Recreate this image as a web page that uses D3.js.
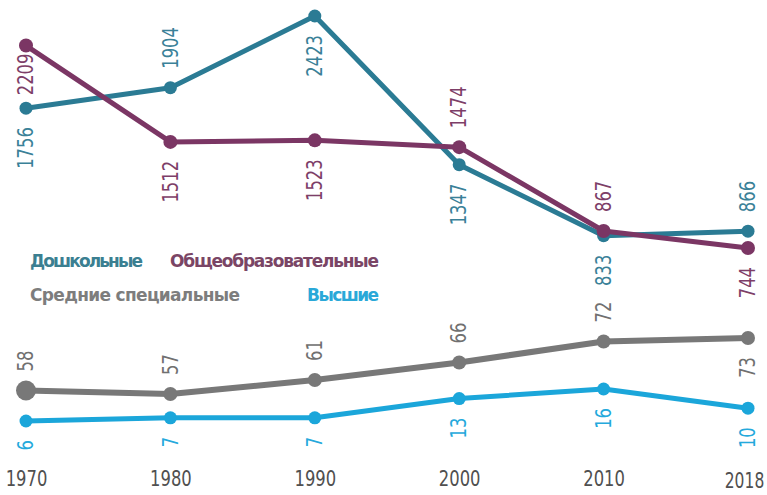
<!DOCTYPE html>
<html lang="ru">
<head>
<meta charset="utf-8">
<script src="https://cdn.jsdelivr.net/npm/d3@7"></script>
<style>
  html, body { margin: 0; padding: 0; background: #ffffff; }
  svg { display: block; }
  text { font-family: "DejaVu Sans", "Roboto", sans-serif; }
</style>
</head>
<body>
<svg id="chart" width="767" height="495"></svg>
<script>
// Число учреждений по типам, 1970–2018
const years = ["1970", "1980", "1990", "2000", "2010", "2018"];
const preschool = [1756, 1904, 2423, 1347, 833, 866];
const general = [2209, 1512, 1523, 1474, 867, 744];
const vocational = [58, 57, 61, 66, 72, 73];
const higher = [6, 7, 7, 13, 16, 10];

const seriesNames = ["Дошкольные", "Общеобразовательные", "Средние специальные", "Высшие"];

// which side of the point each value label sits on
const preschoolSide = ["below", "above", "below", "below", "below", "above"];
const generalSide = ["below", "below", "below", "above", "above", "below"];
const vocationalSide = ["above", "above", "above", "above", "above", "below"];
const higherSide = ["below", "below", "below", "below", "below", "below"];

const W = 767, H = 495;
const svg = d3.select("#chart");

const x = d3.scalePoint().domain(years).range([26, 748]);

// upper group (schools and kindergartens) share one scale
const yTop = d3.scaleLinear().domain([744, 2423]).range([248, 16]);
// lower group: colleges and universities, each on its own band
const yVoc = d3.scaleLinear().domain([57, 73]).range([394, 338]);
const yHigh = d3.scaleLinear().domain([6, 16]).range([421, 389]);

const series = [
  { values: preschool, y: yTop, color: "#2b7b94", label: "#3a8198", side: preschoolSide, lw: 5, r: 6.5 },
  { values: general, y: yTop, color: "#7b3664", label: "#7d3e68", side: generalSide, lw: 5, r: 7 },
  { values: vocational, y: yVoc, color: "#787878", label: "#707070", side: vocationalSide, lw: 6, r: 7 },
  { values: higher, y: yHigh, color: "#1ba6da", label: "#25a9dc", side: higherSide, lw: 5, r: 6.5 }
];

const line = (s) => d3.line()
  .x((d, i) => x(years[i]))
  .y(d => s.y(d));

series.forEach((s, si) => {
  const g = svg.append("g");
  g.append("path")
    .datum(s.values)
    .attr("d", line(s))
    .attr("fill", "none")
    .attr("stroke", s.color)
    .attr("stroke-width", s.lw)
    .attr("stroke-linejoin", "round")
    .attr("stroke-linecap", "round");

  g.selectAll("circle")
    .data(s.values)
    .join("circle")
    .attr("cx", (d, i) => x(years[i]))
    .attr("cy", d => s.y(d))
    .attr("r", (d, i) => (si === 2 && i === 0) ? 10 : s.r)
    .attr("fill", s.color);

  // value labels, set vertically in a narrowed face
  g.selectAll("text")
    .data(s.values)
    .join("text")
    .attr("transform", (d, i) => {
      let off = 19;
      if (si === 1 && i === 0) off = 8;
      const yy = s.y(d) + (s.side[i] === "above" ? -off : off);
      return `translate(${x(years[i])},${yy}) rotate(-90) scale(0.78,1)`;
    })
    .attr("text-anchor", (d, i) => s.side[i] === "above" ? "start" : "end")
    .attr("dominant-baseline", "central")
    .attr("font-size", 21)
    .attr("fill", s.label)
    .text(d => d);
});

// x axis labels
const xAxis = d3.axisBottom(x).tickSize(0).tickPadding(0);
const axG = svg.append("g").attr("transform", "translate(0,469)").call(xAxis);
axG.select(".domain").remove();
axG.selectAll("text")
  .attr("font-size", 21)
  .attr("fill", "#505050")
  .attr("dy", "0.8em")
  .attr("transform", (d, i, n) => i === n.length - 1 ? "translate(-4,2) scale(0.74,1)" : "scale(0.78,1)")
  .style("font-family", "'DejaVu Sans', sans-serif");

// legend
const legend = [
  { name: seriesNames[0], color: "#3b7f91", x: 30, y: 267, len: 113 },
  { name: seriesNames[1], color: "#7a4565", x: 170, y: 267, len: 209 },
  { name: seriesNames[2], color: "#7d7d7d", x: 30, y: 301, len: 210 },
  { name: seriesNames[3], color: "#2aa8d8", x: 307, y: 301, len: 72 }
];
svg.append("g").selectAll("text")
  .data(legend)
  .join("text")
  .attr("x", d => d.x)
  .attr("y", d => d.y)
  .attr("fill", d => d.color)
  .attr("font-size", 17)
  .attr("font-weight", "bold")
  .attr("textLength", d => d.len)
  .attr("lengthAdjust", "spacing")
  .text(d => d.name);
</script>
</body>
</html>
